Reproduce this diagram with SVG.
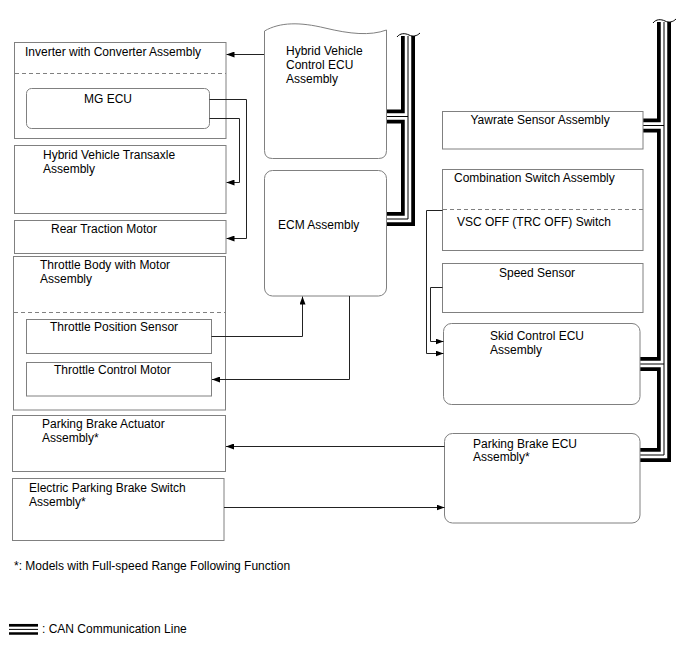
<svg xmlns="http://www.w3.org/2000/svg" width="688" height="658" viewBox="0 0 688 658">
<defs>
<marker id="arr" markerUnits="userSpaceOnUse" markerWidth="8" markerHeight="6" refX="8" refY="3" orient="auto">
<path d="M0,0 L8,3 L0,6 z" fill="#000"/>
</marker>
<style>
text{font-family:"Liberation Sans",Arial,sans-serif;font-size:12px;fill:#000}
.box{fill:#fff;stroke:#808080;stroke-width:1}
.dash{stroke:#808080;stroke-width:1;stroke-dasharray:4,3;fill:none}
.con{stroke:#222;stroke-width:1;fill:none}
.arrow{marker-end:url(#arr)}
.bk{stroke:#000;stroke-width:14;fill:none}
.wh{stroke:#fff;stroke-width:6.5;fill:none}
.ct{stroke:#000;stroke-width:1;fill:none}
.brk{stroke:#000;stroke-width:1;fill:none}
</style>
</defs>
<rect width="688" height="658" fill="#fff"/>

<g id="can-bus">
<path class="bk" d="M408,36 V219 H387"/>
<path class="bk" d="M387,116.5 H408"/>
<path class="bk" d="M664,22 V455 H640"/>
<path class="bk" d="M643,125.5 H664"/>
<path class="bk" d="M640,364 H664"/>
<path class="wh" d="M408,36 V219 H387"/>
<path class="wh" d="M387,116.5 H408"/>
<path class="wh" d="M664,22 V455 H640"/>
<path class="wh" d="M643,125.5 H664"/>
<path class="wh" d="M640,364 H664"/>
<path class="ct" d="M408,36 V219 H387"/>
<path class="ct" d="M387,116.5 H408"/>
<path class="ct" d="M664,22 V455 H640"/>
<path class="ct" d="M643,125.5 H664"/>
<path class="ct" d="M640,364 H664"/>
<path class="brk" d="M397,37 C400,33 405,33 409,35 C413,37 417,36 420,33"/>
<path class="brk" d="M653,23 C656,19 661,19 665,21 C669,23 673,22 676,19"/>
</g>

<g id="inverter">
<rect class="box" x="14.5" y="42.5" width="211.5" height="96"/>
<line class="dash" x1="15" y1="73.5" x2="226" y2="73.5"/>
<text x="25" y="56">Inverter with Converter Assembly</text>
</g>
<g id="mg-ecu">
<rect class="box" x="26.5" y="88.5" width="183" height="40" rx="5"/>
<text x="84" y="103">MG ECU</text>
</g>
<g id="transaxle">
<rect class="box" x="14.5" y="145.5" width="211.5" height="68"/>
<text x="43" y="159">Hybrid Vehicle Transaxle</text>
<text x="43" y="173">Assembly</text>
</g>
<g id="rear-traction">
<rect class="box" x="14.5" y="220.5" width="211.5" height="33"/>
<text x="51" y="233">Rear Traction Motor</text>
</g>
<g id="throttle-body">
<rect class="box" x="13.5" y="256.5" width="212" height="153.5"/>
<line class="dash" x1="14" y1="312.5" x2="225" y2="312.5"/>
<text x="40" y="269">Throttle Body with Motor</text>
<text x="40" y="283">Assembly</text>
</g>
<g id="tps">
<rect class="box" x="26.5" y="319.5" width="185" height="34"/>
<text x="50" y="330.5">Throttle Position Sensor</text>
</g>
<g id="tcm">
<rect class="box" x="26.5" y="362.5" width="185" height="33.5"/>
<text x="54" y="373.5">Throttle Control Motor</text>
</g>
<g id="pb-actuator">
<rect class="box" x="12.5" y="415.5" width="213" height="56"/>
<text x="42" y="427.5">Parking Brake Actuator</text>
<text x="42" y="441.5">Assembly*</text>
</g>
<g id="epb-switch">
<rect class="box" x="12.5" y="478.5" width="211.5" height="62"/>
<text x="29" y="491.5">Electric Parking Brake Switch</text>
<text x="29" y="506">Assembly*</text>
</g>
<g id="hv-ecu">
<path class="box" d="M264.5,31 C280,22 300,22 325,28 C350,34 370,36 386.5,30 V150.5 Q386.5,158.5 378.5,158.5 H272.5 Q264.5,158.5 264.5,150.5 Z"/>
<text x="286" y="55">Hybrid Vehicle</text>
<text x="286" y="68.5">Control ECU</text>
<text x="286" y="82.5">Assembly</text>
</g>
<g id="ecm">
<rect class="box" x="264.5" y="170.5" width="122" height="125.5" rx="8"/>
<text x="278" y="228.5">ECM Assembly</text>
</g>
<g id="yawrate">
<rect class="box" x="442.5" y="111.5" width="200.5" height="37.5"/>
<text x="470.5" y="123.5">Yawrate Sensor Assembly</text>
</g>
<g id="combination-switch">
<rect class="box" x="442.5" y="169.5" width="200.5" height="81"/>
<line class="dash" x1="443" y1="209.5" x2="643" y2="209.5"/>
<text x="454" y="182">Combination Switch Assembly</text>
</g>
<g id="vsc-off">
<text x="457" y="226">VSC OFF (TRC OFF) Switch</text>
</g>
<g id="speed-sensor">
<rect class="box" x="442.5" y="263.5" width="200.5" height="49"/>
<text x="499" y="277">Speed Sensor</text>
</g>
<g id="skid-ecu">
<rect class="box" x="443.5" y="323.5" width="196.5" height="81" rx="8"/>
<text x="490" y="339.5">Skid Control ECU</text>
<text x="490" y="354">Assembly</text>
</g>
<g id="pb-ecu">
<rect class="box" x="444.5" y="433.5" width="195.5" height="89.5" rx="8"/>
<text x="473" y="447.5">Parking Brake ECU</text>
<text x="473" y="461">Assembly*</text>
</g>

<g id="connectors">
<path class="con arrow" d="M264,54.5 H226.5"/>
<path class="con arrow" d="M209.5,99.5 H246.5 V238.5 H226.5"/>
<path class="con arrow" d="M209.5,118.5 H239.5 V182.5 H226.5"/>
<path class="con arrow" d="M211.5,336.5 H302.5 V296.5"/>
<path class="con arrow" d="M349.5,296 V379.5 H212"/>
<path class="con arrow" d="M442.5,210.5 H426.5 V353.5 H443.5"/>
<path class="con arrow" d="M442.5,287.5 H430.5 V341.5 H443.5"/>
<path class="con arrow" d="M444.5,446.5 H226"/>
<path class="con arrow" d="M224,507.5 H444.5"/>
</g>

<g id="notes">
<text x="14" y="570">*: Models with Full-speed Range Following Function</text>
<line x1="9" y1="625.3" x2="38" y2="625.3" stroke="#000" stroke-width="2.7"/>
<line x1="9" y1="629.4" x2="38" y2="629.4" stroke="#000" stroke-width="1"/>
<line x1="9" y1="633.5" x2="38" y2="633.5" stroke="#000" stroke-width="2.5"/>
<text x="42" y="633">: CAN Communication Line</text>
</g>
</svg>
